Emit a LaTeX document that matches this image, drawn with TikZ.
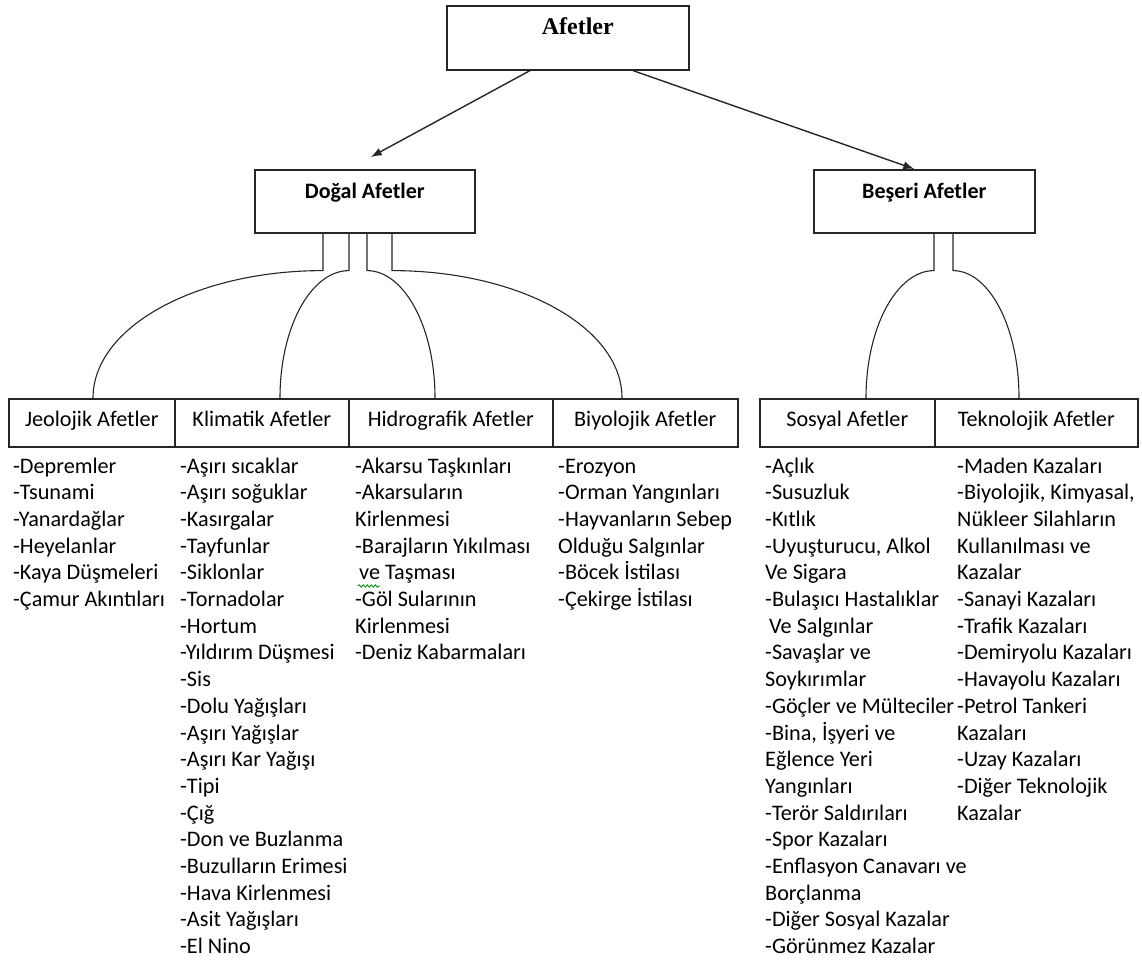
\documentclass[tikz,border=0pt]{standalone}
\usepackage{fontspec}
\setmainfont{Carlito}
\newfontfamily\tnr{Liberation Serif}
\usetikzlibrary{arrows.meta,calc,decorations.pathmorphing}
\begin{document}
\begin{tikzpicture}[x=1pt,y=-1pt,
  box/.style={draw=black!85, line width=1.6pt, inner sep=0pt, rectangle, anchor=north west},
  topbox/.style={box, text height=29pt, text depth=34pt, font=\bfseries\fontsize{22}{26}\selectfont},
  hdr/.style={box, minimum width=#1, text height=28pt, text depth=20pt, font=\fontsize{22.2}{26.7}\selectfont},
  lst/.style={anchor=base west, align=left, inner sep=0pt, font=\fontsize{22.2}{26.7}\selectfont},
  conn/.style={draw=black!85, line width=1.1pt},
  arr/.style={draw=black!85, line width=1.4pt, -{Latex[length=11pt,width=8pt]}}]
\useasboundingbox (0,0) rectangle (1142,963);

% top level
\node[box, minimum width=242pt, text height=29pt, text depth=35pt,
      font=\tnr\bfseries\fontsize{24}{28}\selectfont] (afet) at (446,5) {\hspace*{20pt}Afetler};
\node[topbox, minimum width=220pt] (dogal) at (254,169) {Doğal Afetler};
\node[topbox, minimum width=221pt] (beseri) at (813,169) {Beşeri Afetler};

\draw[arr] ($(afet.south west)+(84,0)$) -- ($(dogal.north)+(6,-12)$);
\draw[arr] ($(afet.south west)+(187,0)$) -- ($(beseri.north)+(-10,0)$);

% headers
\node[hdr=166pt] (jeo) at (8,398) {Jeolojik Afetler};
\node[hdr=174pt] (kli) at (174,398) {Klimatik Afetler};
\node[hdr=204pt] (hid) at (348,398) {Hidrografik Afetler};
\node[hdr=185pt] (biy) at (552,398) {Biyolojik Afetler};
\node[hdr=175pt] (sos) at (759,398) {Sosyal Afetler};
\node[hdr=203pt] (tek) at (934,398) {Teknolojik Afetler};

% fork connectors from Doğal Afetler
\draw[conn] ($(dogal.south west)+(69,0)$) -- ++(0,37)
  .. controls +(-127,0) and +(0,-71) .. ($(jeo.north west)+(85,0)$);
\draw[conn] ($(dogal.south west)+(95,0)$) -- ++(0,37)
  .. controls +(-38,0) and +(0,-71) .. ($(kli.north west)+(106,0)$);
\draw[conn] ($(dogal.south west)+(113,0)$) -- ++(0,37)
  .. controls +(37,0) and +(0,-71) .. ($(hid.north west)+(87,0)$);
\draw[conn] ($(dogal.south west)+(138,0)$) -- ++(0,37)
  .. controls +(127,0) and +(0,-71) .. ($(biy.north west)+(70,0)$);

% fork connectors from Beşeri Afetler
\draw[conn] ($(beseri.south west)+(121,0)$) -- ++(0,37)
  .. controls +(-37,0) and +(0,-71) .. ($(sos.north west)+(107,0)$);
\draw[conn] ($(beseri.south west)+(140,0)$) -- ++(0,37)
  .. controls +(36,0) and +(0,-71) .. ($(tek.north west)+(85,0)$);

% lists (anchored at the baseline of their last line; first baseline at y=473)
\node[lst] (jeoL) at (13,{473+5*26.7}) {-Depremler\\-Tsunami\\-Yanardağlar\\-Heyelanlar\\-Kaya Düşmeleri\\-Çamur Akıntıları};
\node[lst] (kliL) at (180,{473+18*26.7}) {-Aşırı sıcaklar\\-Aşırı soğuklar\\-Kasırgalar\\-Tayfunlar\\-Siklonlar\\-Tornadolar\\-Hortum\\-Yıldırım Düşmesi\\-Sis\\-Dolu Yağışları\\-Aşırı Yağışlar\\-Aşırı Kar Yağışı\\-Tipi\\-Çığ\\-Don ve Buzlanma\\-Buzulların Erimesi\\-Hava Kirlenmesi\\-Asit Yağışları\\-El Nino};
\node[lst] (hidL) at (355,{473+7*26.7}) {-Akarsu Taşkınları\\-Akarsuların\\Kirlenmesi\\-Barajların Yıkılması\\\hspace*{4pt}ve Taşması\\-Göl Sularının\\Kirlenmesi\\-Deniz Kabarmaları};
\node[lst] (biyL) at (558,{473+5*26.7}) {-Erozyon\\-Orman Yangınları\\-Hayvanların Sebep\\Olduğu Salgınlar\\-Böcek İstilası\\-Çekirge İstilası};
\node[lst] (sosL) at (765,{473+18*26.7}) {-Açlık\\-Susuzluk\\-Kıtlık\\-Uyuşturucu, Alkol\\Ve Sigara\\-Bulaşıcı Hastalıklar\\\hspace*{4pt}Ve Salgınlar\\-Savaşlar ve\\Soykırımlar\\-Göçler ve Mülteciler\\-Bina, İşyeri ve\\Eğlence Yeri\\Yangınları\\-Terör Saldırıları\\-Spor Kazaları\\-Enflasyon Canavarı ve\\Borçlanma\\-Diğer Sosyal Kazalar\\-Görünmez Kazalar};
\node[lst] (tekL) at (957,{473+13*26.7}) {-Maden Kazaları\\-Biyolojik, Kimyasal,\\Nükleer Silahların\\Kullanılması ve\\Kazalar\\-Sanayi Kazaları\\-Trafik Kazaları\\-Demiryolu Kazaları\\-Havayolu Kazaları\\-Petrol Tankeri\\Kazaları\\-Uzay Kazaları\\-Diğer Teknolojik\\Kazalar};

% grammar-check squiggle under "ve"
\draw[green!55!black, line width=0.8pt, decorate,
      decoration={snake, amplitude=1.2pt, segment length=4pt}] (358,586) -- (380,586);
\end{tikzpicture}
\end{document}
